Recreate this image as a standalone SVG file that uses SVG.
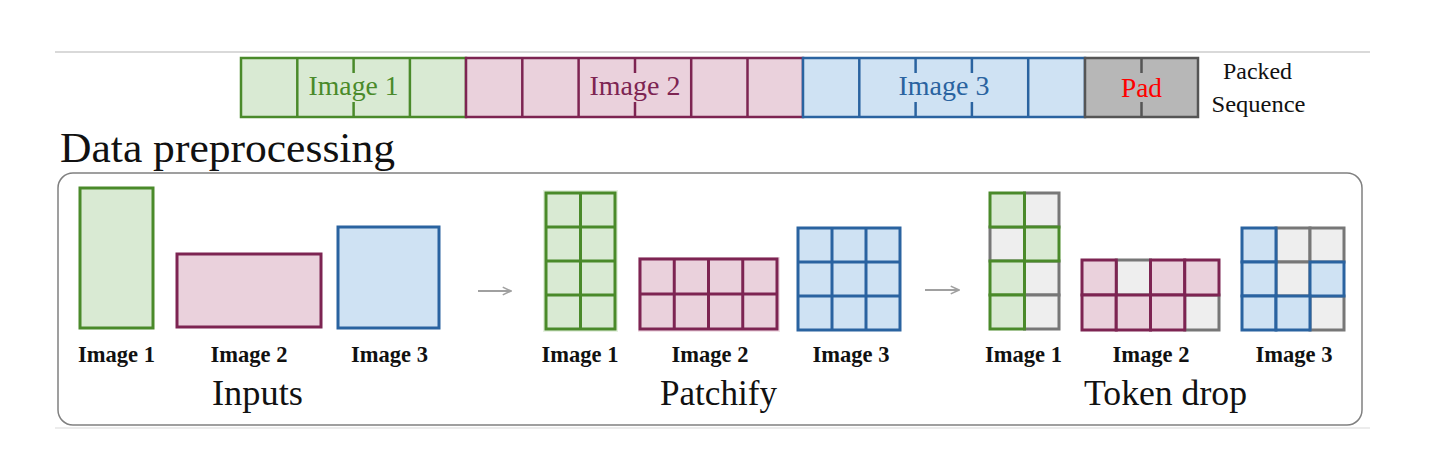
<svg xmlns="http://www.w3.org/2000/svg" width="1446" height="461" viewBox="0 0 1446 461">
<style>
text{font-family:"Liberation Serif","Times New Roman",serif;}
.g{fill:#d9ead3;stroke:#4a8a2a;}
.p{fill:#ead1dc;stroke:#7d2452;}
.b{fill:#cfe2f3;stroke:#2a63a0;}
.k{fill:#b7b7b7;stroke:#555555;}
.x{fill:#eeeeee;stroke:#777777;}
.gl{stroke:#4a8a2a;}
.pl{stroke:#7d2452;}
.bl{stroke:#2a63a0;}
.kl{stroke:#555555;}
.bar rect,.bar line{stroke-width:2.5;}
.shape rect,.shape line{stroke-width:3;}
.lbl{font-size:23px;font-weight:bold;fill:#111;text-anchor:middle;}
.sec{font-size:36px;fill:#111;text-anchor:middle;}
.seq{font-size:27px;text-anchor:middle;}
.arrow{stroke:#a0a0a0;stroke-width:2;fill:none;}
</style>
<defs>
<marker id="ah" viewBox="0 0 10 10" refX="9" refY="5" markerWidth="11" markerHeight="11" markerUnits="userSpaceOnUse" orient="auto">
<path d="M1.5,1.5 L9,5 L1.5,8.5" fill="none" stroke="#a0a0a0" stroke-width="1.4"/>
</marker>
</defs>
<rect width="1446" height="461" fill="#ffffff"/>
<line x1="55" y1="52" x2="1370" y2="52" stroke="#cccccc" stroke-width="1.5"/>
<line x1="55" y1="428" x2="1370" y2="428" stroke="#e6e6e6" stroke-width="1.5"/>

<g id="packed-sequence" class="bar">
  <g id="seq-image1">
    <rect class="g" x="241" y="58" width="225" height="59"/>
    <line class="gl" x1="297.3" y1="58" x2="297.3" y2="117"/>
    <line class="gl" x1="353.6" y1="58" x2="353.6" y2="73"/>
    <line class="gl" x1="353.6" y1="102" x2="353.6" y2="117"/>
    <line class="gl" x1="409.9" y1="58" x2="409.9" y2="117"/>
    <text class="seq" x="353.6" y="95" fill="#4a8a2a" textLength="90" lengthAdjust="spacingAndGlyphs">Image 1</text>
  </g>
  <g id="seq-image2">
    <rect class="p" x="466" y="58" width="337" height="59"/>
    <line class="pl" x1="522.3" y1="58" x2="522.3" y2="117"/>
    <line class="pl" x1="578.6" y1="58" x2="578.6" y2="117"/>
    <line class="pl" x1="635" y1="58" x2="635" y2="73"/>
    <line class="pl" x1="635" y1="102" x2="635" y2="117"/>
    <line class="pl" x1="691.2" y1="58" x2="691.2" y2="117"/>
    <line class="pl" x1="747.5" y1="58" x2="747.5" y2="117"/>
    <text class="seq" x="635" y="95" fill="#7d2452" textLength="91" lengthAdjust="spacingAndGlyphs">Image 2</text>
  </g>
  <g id="seq-image3">
    <rect class="b" x="803" y="58" width="282" height="59"/>
    <line class="bl" x1="859.3" y1="58" x2="859.3" y2="117"/>
    <line class="bl" x1="915.6" y1="58" x2="915.6" y2="73"/>
    <line class="bl" x1="915.6" y1="102" x2="915.6" y2="117"/>
    <line class="bl" x1="971.9" y1="58" x2="971.9" y2="73"/>
    <line class="bl" x1="971.9" y1="102" x2="971.9" y2="117"/>
    <line class="bl" x1="1028.2" y1="58" x2="1028.2" y2="117"/>
    <text class="seq" x="944" y="95" fill="#2a63a0" textLength="91" lengthAdjust="spacingAndGlyphs">Image 3</text>
  </g>
  <g id="seq-pad">
    <rect class="k" x="1085" y="58" width="113" height="59"/>
    <line class="kl" x1="1141.5" y1="58" x2="1141.5" y2="73"/>
    <line class="kl" x1="1141.5" y1="102" x2="1141.5" y2="117"/>
    <text class="seq" x="1141.5" y="97" fill="#ff0000" textLength="41" lengthAdjust="spacingAndGlyphs">Pad</text>
  </g>
  <g id="seq-label">
    <text x="1257.5" y="79" font-size="24" fill="#111" text-anchor="middle" textLength="69" lengthAdjust="spacingAndGlyphs">Packed</text>
    <text x="1258.5" y="112" font-size="24" fill="#111" text-anchor="middle" textLength="94" lengthAdjust="spacingAndGlyphs">Sequence</text>
  </g>
</g>

<g id="title">
  <text x="60" y="162" font-size="42" fill="#111" textLength="335" lengthAdjust="spacingAndGlyphs">Data preprocessing</text>
</g>

<g id="panel">
  <rect x="58" y="173" width="1304" height="252" rx="15" fill="none" stroke="#808080" stroke-width="1.5"/>
</g>

<g id="inputs" class="shape">
  <g id="input-image1">
    <rect class="g" x="80" y="188" width="73" height="140"/>
    <text class="lbl" x="116.5" y="362" textLength="77" lengthAdjust="spacingAndGlyphs">Image 1</text>
  </g>
  <g id="input-image2">
    <rect class="p" x="177" y="254" width="144" height="73"/>
    <text class="lbl" x="249" y="362" textLength="77" lengthAdjust="spacingAndGlyphs">Image 2</text>
  </g>
  <g id="input-image3">
    <rect class="b" x="338" y="227" width="101" height="101"/>
    <text class="lbl" x="389.5" y="362" textLength="77" lengthAdjust="spacingAndGlyphs">Image 3</text>
  </g>
  <text id="label-inputs" class="sec" x="257.5" y="405" textLength="91" lengthAdjust="spacingAndGlyphs">Inputs</text>
</g>

<g id="patchify" class="shape">
  <g id="patch-image1">
    <rect x="543" y="190" width="75" height="142" fill="#e6f1e1"/>
    <rect class="g" x="546" y="193" width="69" height="136"/>
    <line class="gl" x1="580.5" y1="193" x2="580.5" y2="329"/>
    <line class="gl" x1="546" y1="227" x2="615" y2="227"/>
    <line class="gl" x1="546" y1="261" x2="615" y2="261"/>
    <line class="gl" x1="546" y1="295" x2="615" y2="295"/>
    <text class="lbl" x="580" y="362" textLength="77" lengthAdjust="spacingAndGlyphs">Image 1</text>
  </g>
  <g id="patch-image2">
    <rect x="638" y="257" width="142" height="75" fill="#f2e1e8"/>
    <rect class="p" x="640" y="259" width="137" height="70"/>
    <line class="pl" x1="674.25" y1="259" x2="674.25" y2="329"/>
    <line class="pl" x1="708.5" y1="259" x2="708.5" y2="329"/>
    <line class="pl" x1="742.75" y1="259" x2="742.75" y2="329"/>
    <line class="pl" x1="640" y1="294" x2="777" y2="294"/>
    <text class="lbl" x="710" y="362" textLength="77" lengthAdjust="spacingAndGlyphs">Image 2</text>
  </g>
  <g id="patch-image3">
    <rect class="b" x="798" y="228" width="102" height="102"/>
    <line class="bl" x1="832" y1="228" x2="832" y2="330"/>
    <line class="bl" x1="866" y1="228" x2="866" y2="330"/>
    <line class="bl" x1="798" y1="262" x2="900" y2="262"/>
    <line class="bl" x1="798" y1="296" x2="900" y2="296"/>
    <text class="lbl" x="851" y="362" textLength="77" lengthAdjust="spacingAndGlyphs">Image 3</text>
  </g>
  <text id="label-patchify" class="sec" x="718.5" y="405" textLength="117" lengthAdjust="spacingAndGlyphs">Patchify</text>
</g>

<g id="token-drop" class="shape">
  <g id="drop-image1">
    <rect class="x" x="1024.5" y="193" width="34.5" height="34"/>
    <rect class="x" x="990" y="227" width="34.5" height="34"/>
    <rect class="x" x="1024.5" y="261" width="34.5" height="34"/>
    <rect class="x" x="1024.5" y="295" width="34.5" height="34"/>
    <rect class="g" x="990" y="193" width="34.5" height="34"/>
    <rect class="g" x="1024.5" y="227" width="34.5" height="34"/>
    <rect class="g" x="990" y="261" width="34.5" height="34"/>
    <rect class="g" x="990" y="295" width="34.5" height="34"/>
    <text class="lbl" x="1023.5" y="362" textLength="77" lengthAdjust="spacingAndGlyphs">Image 1</text>
  </g>
  <g id="drop-image2">
    <rect class="x" x="1116.25" y="260" width="34.25" height="35"/>
    <rect class="x" x="1184.75" y="295" width="34.25" height="35"/>
    <rect class="p" x="1082" y="260" width="34.25" height="35"/>
    <rect class="p" x="1150.5" y="260" width="34.25" height="35"/>
    <rect class="p" x="1184.75" y="260" width="34.25" height="35"/>
    <rect class="p" x="1082" y="295" width="34.25" height="35"/>
    <rect class="p" x="1116.25" y="295" width="34.25" height="35"/>
    <rect class="p" x="1150.5" y="295" width="34.25" height="35"/>
    <text class="lbl" x="1151" y="362" textLength="77" lengthAdjust="spacingAndGlyphs">Image 2</text>
  </g>
  <g id="drop-image3">
    <rect class="x" x="1276" y="228" width="34" height="34"/>
    <rect class="x" x="1310" y="228" width="34" height="34"/>
    <rect class="x" x="1276" y="262" width="34" height="34"/>
    <rect class="x" x="1310" y="296" width="34" height="34"/>
    <rect class="b" x="1242" y="228" width="34" height="34"/>
    <rect class="b" x="1242" y="262" width="34" height="34"/>
    <rect class="b" x="1310" y="262" width="34" height="34"/>
    <rect class="b" x="1242" y="296" width="34" height="34"/>
    <rect class="b" x="1276" y="296" width="34" height="34"/>
    <text class="lbl" x="1294" y="362" textLength="77" lengthAdjust="spacingAndGlyphs">Image 3</text>
  </g>
  <text id="label-token-drop" class="sec" x="1165.5" y="405" textLength="163" lengthAdjust="spacingAndGlyphs">Token drop</text>
</g>

<g id="connectors">
  <line class="arrow" x1="478" y1="291" x2="511" y2="291" marker-end="url(#ah)"/>
  <line class="arrow" x1="925" y1="290" x2="959" y2="290" marker-end="url(#ah)"/>
</g>
</svg>
